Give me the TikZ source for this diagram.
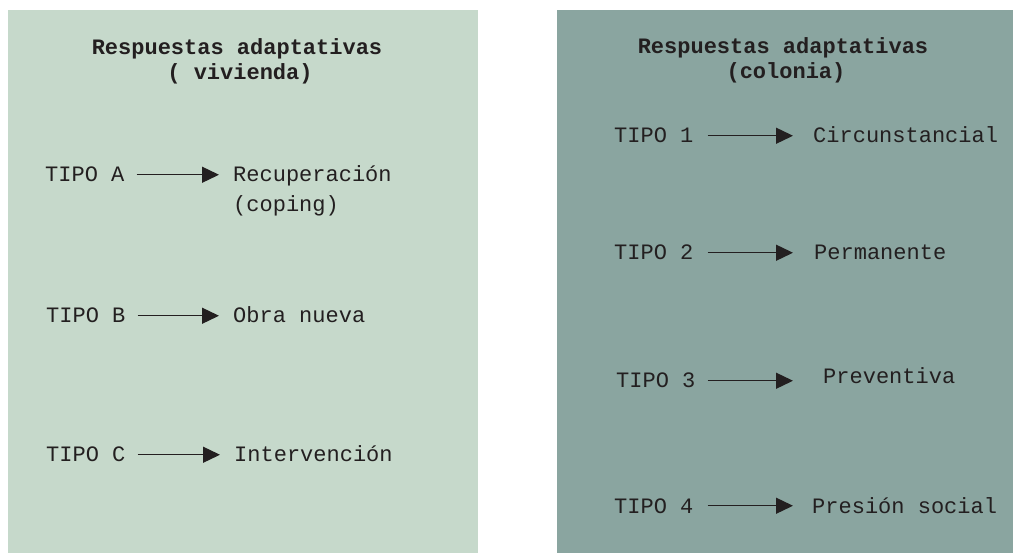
\documentclass[tikz,border=0pt]{standalone}
\usepackage{fontspec}
\setmainfont{Liberation Mono}
\usetikzlibrary{arrows.meta}
\definecolor{leftbg}{RGB}{198,217,203}
\definecolor{rightbg}{RGB}{138,165,160}
\definecolor{ink}{RGB}{35,31,32}
\tikzset{
  txt/.style={anchor=base west, inner sep=0pt, text=ink, font=\fontsize{22}{27}\selectfont},
  ttl/.style={anchor=base, inner sep=0pt, text=ink, font=\fontsize{22}{27}\selectfont\bfseries},
  arr/.style={draw=ink, line width=1.3pt, -{Triangle[length=17pt,width=16pt]}}
}
\begin{document}
\begin{tikzpicture}[x=1pt,y=-1pt]
\useasboundingbox (0,0) rectangle (1013,553);
\fill[leftbg] (8,10) rectangle (478,553);
\fill[rightbg] (557,10) rectangle (1013,553);
% left panel
\node[ttl] (lt1) at (237,55) {Respuestas adaptativas};
\node[ttl] (lt2) at (240,80) {( vivienda)};
\node[txt] (ta) at (45,182) {TIPO A};
\node[txt] (ra) at (233,182) {Recuperación};
\node[txt] (ra2) at (233,212) {(coping)};
\node[txt] (tb) at (46,323) {TIPO B};
\node[txt] (rb) at (233,323) {Obra nueva};
\node[txt] (tc) at (46,462) {TIPO C};
\node[txt] (rc) at (234,462) {Intervención};
\draw[arr] ([xshift=12pt]ta.east) -- ([xshift=-14pt]ta.east -| ra.west);
\draw[arr] ([xshift=12pt]tb.east) -- ([xshift=-14pt]tb.east -| rb.west);
\draw[arr] ([xshift=12pt]tc.east) -- ([xshift=-14pt]tc.east -| rc.west);
% right panel
\node[ttl] (rt1) at (783,54) {Respuestas adaptativas};
\node[ttl] (rt2) at (786,79) {(colonia)};
\node[txt] (t1) at (614,143) {TIPO 1};
\node[txt] (c1) at (813,143) {Circunstancial};
\node[txt] (t2) at (614,260) {TIPO 2};
\node[txt] (c2) at (814,260) {Permanente};
\node[txt] (t3) at (616,388) {TIPO 3};
\node[txt] (c3) at (823,384) {Preventiva};
\node[txt] (t4) at (614,513) {TIPO 4};
\node[txt] (c4) at (812,513) {Presión social};
\draw[arr] ([xshift=14pt]t1.east) -- ([xshift=-20pt]t1.east -| c1.west);
\draw[arr] ([xshift=14pt]t2.east) -- ([xshift=-21pt]t2.east -| c2.west);
\draw[arr] ([xshift=12pt]t3.east) -- ([xshift=-30pt]t3.east -| c3.west);
\draw[arr] ([xshift=14pt]t4.east) -- ([xshift=-19pt]t4.east -| c4.west);
\end{tikzpicture}
\end{document}
